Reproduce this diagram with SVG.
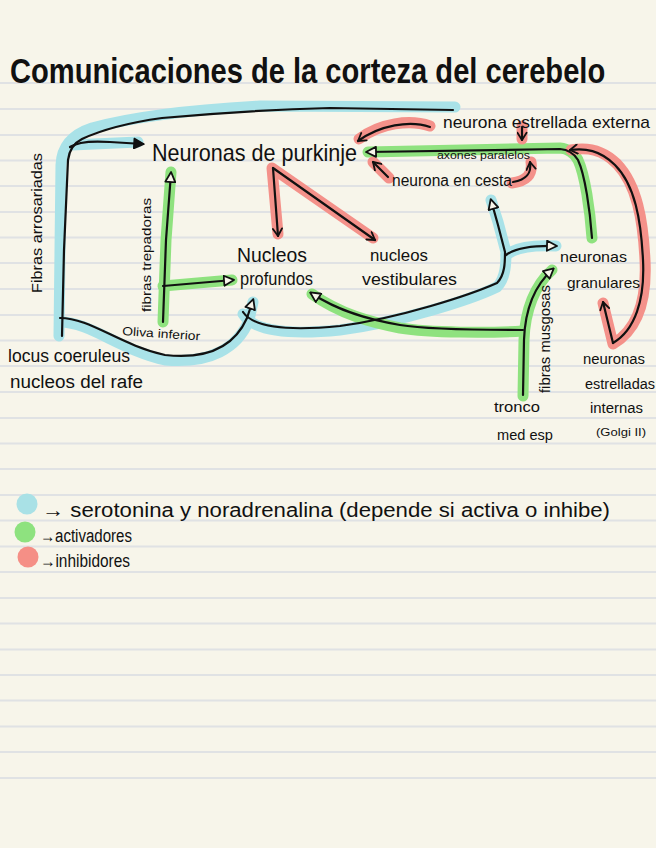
<svg xmlns="http://www.w3.org/2000/svg" width="656" height="848" viewBox="0 0 656 848">
<defs>
<style>
.bg{fill:#f7f5ea}
.rule{stroke:#e0e2e4;stroke-width:2}
.t{font-family:"Liberation Sans","DejaVu Sans",sans-serif;fill:#111}
.ln{fill:none;stroke:#111;stroke-width:2.2;stroke-linecap:round;stroke-linejoin:round}
.hb{fill:none;stroke:#a9e2e8;stroke-width:11;stroke-linecap:round;stroke-linejoin:round}
.hg{fill:none;stroke:#8fe27f;stroke-width:11;stroke-linecap:round;stroke-linejoin:round}
.hr{fill:none;stroke:#f4918a;stroke-width:11;stroke-linecap:round;stroke-linejoin:round}
</style>
<marker id="open" viewBox="0 0 12 12" refX="10" refY="6" markerWidth="12" markerHeight="12" markerUnits="userSpaceOnUse" orient="auto">
<path d="M1,1 L11,6 L1,11 Z" fill="#f7f5ea" stroke="#111" stroke-width="1.8" stroke-linejoin="round"/>
</marker>
<marker id="solid" viewBox="0 0 12 12" refX="10" refY="6" markerWidth="12" markerHeight="12" markerUnits="userSpaceOnUse" orient="auto">
<path d="M1,1 L11,6 L1,11 Z" fill="#111" stroke="#111" stroke-width="1.5" stroke-linejoin="round"/>
</marker>
<marker id="chev" viewBox="0 0 12 12" refX="10" refY="6" markerWidth="11" markerHeight="11" markerUnits="userSpaceOnUse" orient="auto">
<path d="M2,1 L10,6 L2,11" fill="none" stroke="#111" stroke-width="2" stroke-linecap="round" stroke-linejoin="round"/>
</marker>
</defs>

<rect class="bg" x="0" y="0" width="656" height="848"/>
<g id="rules">
<line class="rule" x1="0" y1="83" x2="656" y2="83"/>
<line class="rule" x1="0" y1="109" x2="656" y2="109"/>
<line class="rule" x1="0" y1="135" x2="656" y2="135"/>
<line class="rule" x1="0" y1="160.5" x2="656" y2="160.5"/>
<line class="rule" x1="0" y1="186" x2="656" y2="186"/>
<line class="rule" x1="0" y1="212" x2="656" y2="212"/>
<line class="rule" x1="0" y1="237.5" x2="656" y2="237.5"/>
<line class="rule" x1="0" y1="263" x2="656" y2="263"/>
<line class="rule" x1="0" y1="289" x2="656" y2="289"/>
<line class="rule" x1="0" y1="315" x2="656" y2="315"/>
<line class="rule" x1="0" y1="340.5" x2="656" y2="340.5"/>
<line class="rule" x1="0" y1="366" x2="656" y2="366"/>
<line class="rule" x1="0" y1="392" x2="656" y2="392"/>
<line class="rule" x1="0" y1="418" x2="656" y2="418"/>
<line class="rule" x1="0" y1="443.5" x2="656" y2="443.5"/>
<line class="rule" x1="0" y1="469" x2="656" y2="469"/>
<line class="rule" x1="0" y1="495" x2="656" y2="495"/>
<line class="rule" x1="0" y1="520.5" x2="656" y2="520.5"/>
<line class="rule" x1="0" y1="546.5" x2="656" y2="546.5"/>
<line class="rule" x1="0" y1="572" x2="656" y2="572"/>
<line class="rule" x1="0" y1="598" x2="656" y2="598"/>
<line class="rule" x1="0" y1="623.5" x2="656" y2="623.5"/>
<line class="rule" x1="0" y1="649.5" x2="656" y2="649.5"/>
<line class="rule" x1="0" y1="675" x2="656" y2="675"/>
<line class="rule" x1="0" y1="700.5" x2="656" y2="700.5"/>
<line class="rule" x1="0" y1="726.5" x2="656" y2="726.5"/>
<line class="rule" x1="0" y1="752" x2="656" y2="752"/>
<line class="rule" x1="0" y1="778" x2="656" y2="778"/>
</g>

<g id="title"><text class="t" x="0" y="0" font-size="36" font-weight="bold" textLength="744" lengthAdjust="spacingAndGlyphs" transform="translate(10,83) scale(0.8,1)">Comunicaciones de la corteza del cerebelo</text></g>

<g id="connectors">
<path class="hb" d="M59,336 L61,165 Q62,138 92,128 Q150,112 260,106 L455,107"/>
<path class="hb" d="M72,145 L138,142"/>
<path class="hb" d="M60,322 C90,322 120,350 165,360 C210,364 238,348 249,320 L253,302"/>
<path class="hb" d="M243,314 C255,334 300,334 340,330 C400,322 470,300 497,287 C506,278 506,262 506,252 L498,222 L491,200"/>
<path class="hb" d="M506,255 Q520,244 556,246"/>
<path class="hg" d="M163,322 L166,240 L171,172"/>
<path class="hg" d="M163,286 L232,280"/>
<path class="hg" d="M523,396 L524,340 C525,310 535,285 552,270"/>
<path class="hg" d="M523,331 C490,333 430,333 400,328 C370,322 340,314 312,294"/>
<path class="hg" d="M592,238 C590,210 585,175 578,160 Q572,149 560,148 L368,152"/>
<path class="hr" d="M278,234 L272,168 L373,238"/>
<path class="hr" d="M430,126 C410,119 380,123 359,139"/>
<path class="hr" d="M522,126 L522,139"/>
<path class="hr" d="M389,178 L373,162"/>
<path class="hr" d="M512,183 C526,181 533,175 531,162"/>
<path class="hr" d="M603,303 L613,344 C637,330 647,300 645,260 C643,220 637,185 617,164 C602,149 587,147 571,150"/>

<path class="ln" d="M62,336 L64,250 L68,160 Q70,145 82,139 Q112,125 162,118 Q250,110 330,108 L453,110"/>
<path class="ln" marker-end="url(#solid)" d="M70,147 Q80,140 110,142 L143,144"/>
<path class="ln" marker-end="url(#open)" d="M60,318 C90,318 120,345 165,355 C210,360 235,345 247,318 L253,300"/>
<path class="ln" d="M243,312 C255,330 300,330 340,326 C400,318 470,295 497,283 C505,275 505,262 505,252"/>
<path class="ln" marker-end="url(#open)" d="M505,252 L498,225 L491,200"/>
<path class="ln" marker-end="url(#open)" d="M506,255 Q520,245 556,246"/>
<path class="ln" marker-end="url(#open)" d="M163,322 L166,240 L171,173"/>
<path class="ln" marker-end="url(#open)" d="M163,286 L233,280"/>
<path class="ln" marker-end="url(#open)" d="M523,395 L524,340 C525,310 535,285 553,269"/>
<path class="ln" marker-end="url(#open)" d="M523,330 C490,330 430,330 400,325 C370,320 340,312 311,293"/>
<path class="ln" marker-end="url(#open)" d="M592,238 C590,210 585,175 578,160 Q572,150 560,149 L367,152"/>
<path class="ln" marker-end="url(#chev)" d="M273,168 L278,236"/>
<path class="ln" marker-end="url(#chev)" d="M273,168 L375,240"/>
<path class="ln" marker-end="url(#chev)" d="M430,127 C410,120 380,125 358,141"/>
<path class="ln" marker-end="url(#chev)" d="M522,127 L522,140"/>
<path class="ln" marker-end="url(#chev)" d="M388,177 L373,162"/>
<path class="ln" marker-end="url(#chev)" d="M513,182 C525,180 532,175 530,162"/>
<path class="ln" marker-end="url(#chev)" d="M613,343 C635,330 645,300 643,260 C641,220 635,185 615,165 C600,150 585,148 570,150"/>
<path class="ln" marker-end="url(#chev)" d="M613,343 L603,302"/>
</g>

<g id="purkinje"><text class="t" x="152" y="161" font-size="24" textLength="205" lengthAdjust="spacingAndGlyphs">Neuronas de purkinje</text></g>
<g id="estrellada-externa"><text class="t" x="443" y="128" font-size="17" textLength="207" lengthAdjust="spacingAndGlyphs">neurona estrellada externa</text></g>
<g id="axones"><text class="t" x="437" y="159" font-size="10" textLength="93" lengthAdjust="spacingAndGlyphs">axones paralelos</text></g>
<g id="cesta"><text class="t" x="392" y="186" font-size="16" textLength="120" lengthAdjust="spacingAndGlyphs">neurona en cesta</text></g>
<g id="profundos">
<text class="t" x="237" y="262" font-size="20" textLength="70" lengthAdjust="spacingAndGlyphs">Nucleos</text>
<text class="t" x="240" y="285" font-size="19" textLength="73" lengthAdjust="spacingAndGlyphs">profundos</text>
</g>
<g id="vestibulares">
<text class="t" x="370" y="261" font-size="17" textLength="58" lengthAdjust="spacingAndGlyphs">nucleos</text>
<text class="t" x="362" y="285" font-size="17" textLength="95" lengthAdjust="spacingAndGlyphs">vestibulares</text>
</g>
<g id="granulares">
<text class="t" x="560" y="262" font-size="15" textLength="67" lengthAdjust="spacingAndGlyphs">neuronas</text>
<text class="t" x="567" y="288" font-size="15" textLength="73" lengthAdjust="spacingAndGlyphs">granulares</text>
</g>
<g id="estrelladas-internas">
<text class="t" x="583" y="364" font-size="14" textLength="62" lengthAdjust="spacingAndGlyphs">neuronas</text>
<text class="t" x="585" y="389" font-size="14" textLength="70" lengthAdjust="spacingAndGlyphs">estrelladas</text>
<text class="t" x="590" y="413" font-size="14" textLength="53" lengthAdjust="spacingAndGlyphs">internas</text>
<text class="t" x="596" y="436" font-size="11" textLength="50" lengthAdjust="spacingAndGlyphs">(Golgi II)</text>
</g>
<g id="tronco">
<text class="t" x="494" y="412" font-size="15" textLength="46" lengthAdjust="spacingAndGlyphs">tronco</text>
<text class="t" x="497" y="440" font-size="15" textLength="56" lengthAdjust="spacingAndGlyphs">med esp</text>
</g>
<g id="locus">
<text class="t" x="8" y="362" font-size="18" textLength="122" lengthAdjust="spacingAndGlyphs">locus coeruleus</text>
<text class="t" x="10" y="388" font-size="18" textLength="133" lengthAdjust="spacingAndGlyphs">nucleos del rafe</text>
</g>
<g id="oliva"><text class="t" x="0" y="0" font-size="12" textLength="78" lengthAdjust="spacingAndGlyphs" transform="translate(122,335) rotate(4)">Oliva inferior</text></g>

<g id="edge-labels">
<text class="t" x="0" y="0" font-size="14" textLength="140" lengthAdjust="spacingAndGlyphs" transform="translate(42,293) rotate(-90)">Fibras arrosariadas</text>
<text class="t" x="0" y="0" font-size="13" textLength="114" lengthAdjust="spacingAndGlyphs" transform="translate(151,312) rotate(-90)">fibras trepadoras</text>
<text class="t" x="0" y="0" font-size="14" textLength="108" lengthAdjust="spacingAndGlyphs" transform="translate(550,393) rotate(-90)">fibras musgosas</text>
</g>

<g id="legend">
<circle cx="27" cy="504" r="10.5" fill="#a9e1e6"/>
<circle cx="25" cy="532" r="10.5" fill="#8ee27f"/>
<circle cx="28" cy="557" r="10.5" fill="#f58f86"/>
<text class="t" x="42" y="517" font-size="20" textLength="568" lengthAdjust="spacingAndGlyphs">→ serotonina y noradrenalina (depende si activa o inhibe)</text>
<text class="t" x="40" y="542" font-size="18" textLength="92" lengthAdjust="spacingAndGlyphs">→activadores</text>
<text class="t" x="40" y="567" font-size="18" textLength="90" lengthAdjust="spacingAndGlyphs">→inhibidores</text>
</g>
</svg>
